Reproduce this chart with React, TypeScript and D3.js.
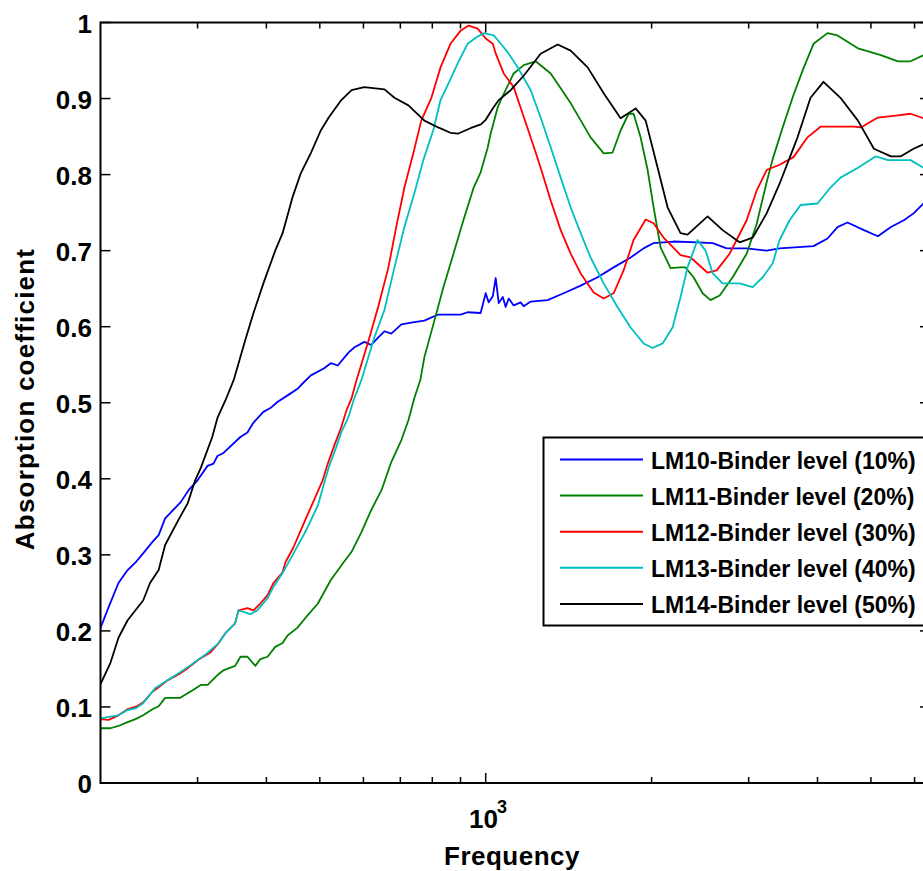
import React from 'react';
import * as d3 from 'd3';

// frequencies (Hz) and absorption coefficients
const freqLM10 = [200, 206.8, 215.6, 224, 231.5, 239, 248.5, 255, 262, 279.4, 289, 300, 312.8, 320.7, 326, 334.4, 358.8, 369.5, 379, 395, 406.7, 418.8, 442, 455, 462, 481.6, 508.4, 523.5, 539, 563.5, 578, 602.5, 620, 638.5, 655, 674, 703, 742, 774, 820, 900, 927, 979, 1000, 1012.6, 1030, 1042.6, 1056, 1074, 1087, 1101, 1124, 1157, 1172, 1207, 1295, 1385, 1487, 1596, 1707, 1832, 1934, 2017, 2192, 2423, 2582, 2737, 2975, 3234, 3414, 3934, 4171, 4348, 4534, 4856, 5148, 5436, 5738, 5975, 6230];
const alphaLM10 = [0.204, 0.231, 0.263, 0.280, 0.290, 0.302, 0.317, 0.326, 0.348, 0.369, 0.385, 0.398, 0.417, 0.420, 0.430, 0.434, 0.455, 0.461, 0.474, 0.488, 0.493, 0.501, 0.512, 0.518, 0.523, 0.536, 0.545, 0.552, 0.549, 0.566, 0.573, 0.580, 0.576, 0.586, 0.594, 0.591, 0.603, 0.606, 0.608, 0.616, 0.616, 0.619, 0.618, 0.644, 0.632, 0.640, 0.664, 0.631, 0.639, 0.626, 0.637, 0.628, 0.632, 0.627, 0.633, 0.635, 0.644, 0.654, 0.665, 0.678, 0.691, 0.703, 0.710, 0.712, 0.711, 0.710, 0.703, 0.703, 0.700, 0.703, 0.706, 0.716, 0.731, 0.737, 0.727, 0.719, 0.731, 0.740, 0.749, 0.762];

const freqLM11 = [200, 208.5, 215.6, 224, 231.5, 239, 248.5, 255, 262, 279, 294, 304, 313, 326, 334, 351, 359, 369.5, 382, 390, 402, 415, 428, 437, 455, 472, 496, 523.5, 552, 571, 595, 620, 647, 674, 703, 724, 742, 761, 774, 807, 838, 874, 911, 951, 979, 1008, 1021, 1051, 1065, 1124, 1172, 1232, 1312, 1426, 1550, 1637, 1699, 1757, 1817, 1855, 1910, 1967, 2017, 2077, 2165, 2257, 2303, 2383, 2475, 2558, 2658, 2806, 2975, 3102, 3234, 3316, 3458, 3619, 3773, 3934, 4171, 4348, 4736, 5213, 5597, 5900, 6230];
const alphaLM11 = [0.072, 0.072, 0.075, 0.080, 0.084, 0.089, 0.097, 0.101, 0.112, 0.112, 0.122, 0.129, 0.129, 0.142, 0.148, 0.154, 0.166, 0.166, 0.154, 0.163, 0.166, 0.179, 0.184, 0.194, 0.204, 0.218, 0.236, 0.267, 0.290, 0.304, 0.330, 0.359, 0.385, 0.422, 0.451, 0.477, 0.506, 0.530, 0.560, 0.608, 0.652, 0.696, 0.740, 0.783, 0.803, 0.835, 0.854, 0.888, 0.898, 0.933, 0.944, 0.949, 0.933, 0.894, 0.849, 0.828, 0.829, 0.858, 0.880, 0.880, 0.849, 0.806, 0.757, 0.704, 0.677, 0.678, 0.678, 0.665, 0.644, 0.635, 0.641, 0.665, 0.696, 0.735, 0.790, 0.820, 0.862, 0.905, 0.940, 0.972, 0.986, 0.983, 0.966, 0.957, 0.949, 0.949, 0.957];

const freqLM12 = [200, 206.8, 215.6, 224, 231.5, 239, 248.5, 255, 264.6, 277.5, 288, 301, 317, 327.5, 337, 351, 356, 369.5, 379, 390, 402, 412, 428, 433, 448, 468, 488, 506, 517, 530, 547, 559, 571, 583, 613, 638, 666, 688, 712, 739, 764, 797, 828, 863, 900, 931, 967, 1000, 1030, 1043, 1078, 1124, 1167, 1217, 1258, 1312, 1368, 1426, 1487, 1570, 1637, 1707, 1779, 1855, 1951, 2017, 2103, 2257, 2354, 2527, 2625, 2771, 2853, 2975, 3102, 3234, 3414, 3619, 3836, 4050, 4657, 4796, 5148, 5597, 5900, 6230];
const alphaLM12 = [0.084, 0.083, 0.089, 0.097, 0.100, 0.106, 0.120, 0.126, 0.135, 0.143, 0.151, 0.162, 0.172, 0.184, 0.197, 0.210, 0.227, 0.230, 0.227, 0.236, 0.247, 0.263, 0.277, 0.290, 0.310, 0.342, 0.372, 0.398, 0.420, 0.442, 0.468, 0.490, 0.506, 0.530, 0.582, 0.626, 0.678, 0.731, 0.783, 0.828, 0.871, 0.901, 0.941, 0.972, 0.989, 0.996, 0.992, 0.979, 0.972, 0.959, 0.933, 0.915, 0.880, 0.841, 0.809, 0.766, 0.727, 0.696, 0.670, 0.645, 0.637, 0.644, 0.674, 0.714, 0.741, 0.736, 0.717, 0.694, 0.691, 0.671, 0.674, 0.696, 0.714, 0.740, 0.779, 0.806, 0.813, 0.823, 0.849, 0.863, 0.863, 0.862, 0.875, 0.878, 0.880, 0.874];

const freqLM13 = [200, 206.8, 215.6, 224, 231.5, 239, 251.6, 264.6, 279.4, 291.4, 312.8, 327.5, 337, 351, 356, 374, 385, 402, 412, 428, 448, 472, 496, 508, 519, 534.5, 547, 563.5, 575.5, 595, 602.5, 628, 655, 683, 712, 742, 770.5, 803, 828, 856, 889, 927, 959, 992, 1034, 1065, 1096, 1143, 1207, 1258, 1312, 1368, 1426, 1487, 1550, 1637, 1734, 1832, 1934, 2008, 2094, 2183, 2257, 2324, 2423, 2506, 2582, 2691, 2889, 3050, 3181, 3316, 3414, 3560, 3726, 4000, 4223, 4403, 4736, 5105, 5368, 5900, 6230];
const alphaLM13 = [0.085, 0.087, 0.089, 0.096, 0.098, 0.105, 0.125, 0.135, 0.146, 0.155, 0.171, 0.184, 0.197, 0.210, 0.227, 0.222, 0.227, 0.243, 0.258, 0.276, 0.302, 0.332, 0.365, 0.392, 0.415, 0.440, 0.461, 0.481, 0.503, 0.530, 0.543, 0.586, 0.622, 0.678, 0.731, 0.775, 0.819, 0.858, 0.898, 0.920, 0.946, 0.972, 0.980, 0.986, 0.983, 0.972, 0.961, 0.941, 0.911, 0.875, 0.836, 0.796, 0.757, 0.723, 0.691, 0.657, 0.626, 0.599, 0.578, 0.572, 0.578, 0.599, 0.639, 0.678, 0.714, 0.700, 0.670, 0.657, 0.657, 0.652, 0.665, 0.683, 0.714, 0.740, 0.760, 0.762, 0.783, 0.796, 0.809, 0.824, 0.819, 0.819, 0.809];

const freqLM14 = [200, 208.5, 215.6, 224, 239, 246, 255, 262, 277, 288, 297, 304, 319, 326, 337, 349, 366, 379, 395, 415, 428, 446, 462, 482, 502, 519, 547, 571, 602, 655, 683, 724, 774, 820, 863, 892, 938, 980, 1000, 1030, 1056, 1110, 1172, 1258, 1351, 1426, 1531, 1637, 1757, 1871, 1951, 2051, 2138, 2257, 2324, 2527, 2691, 2889, 3050, 3234, 3414, 3680, 3885, 4101, 4403, 4736, 5063, 5436, 5667, 5975, 6230];
const alphaLM14 = [0.130, 0.158, 0.191, 0.214, 0.240, 0.263, 0.280, 0.313, 0.346, 0.368, 0.398, 0.414, 0.455, 0.480, 0.503, 0.530, 0.582, 0.618, 0.657, 0.700, 0.723, 0.770, 0.802, 0.829, 0.858, 0.875, 0.898, 0.911, 0.915, 0.912, 0.901, 0.891, 0.871, 0.862, 0.855, 0.854, 0.861, 0.866, 0.872, 0.887, 0.898, 0.911, 0.930, 0.959, 0.971, 0.963, 0.941, 0.907, 0.874, 0.887, 0.871, 0.809, 0.757, 0.723, 0.721, 0.745, 0.727, 0.711, 0.717, 0.749, 0.788, 0.849, 0.901, 0.922, 0.901, 0.871, 0.834, 0.824, 0.824, 0.834, 0.840];

const seriesNames = ['LM10-Binder level (10%)', 'LM11-Binder level (20%)', 'LM12-Binder level (30%)', 'LM13-Binder level (40%)', 'LM14-Binder level (50%)'];
const seriesColors = ['#0000ff', '#008000', '#ff0000', '#00bfbf', '#000000'];
const seriesFreqs = [freqLM10, freqLM11, freqLM12, freqLM13, freqLM14];
const seriesAlphas = [alphaLM10, alphaLM11, alphaLM12, alphaLM13, alphaLM14];

const W = 923;
const H = 871;
const left = 100.5, right = 930, top = 22.5, bottom = 783;
const font = 'Arial, "Liberation Sans", Helvetica, sans-serif';

const App = () => {
  const x = d3.scaleLog().domain([200, 6400]).range([left, right]);
  const y = d3.scaleLinear().domain([0, 1]).range([bottom, top]);
  const line = d3.line<[number, number]>()
    .x(d => x(d[0]))
    .y(d => y(d[1]));

  const xTicks = x.ticks().filter(t => t > 200 && t < 6400);
  const yTicks = y.ticks(10);

  return (
    <svg width={W} height={H} style={{ position: 'absolute', left: 0, top: 0, background: '#fff' }}
      fontFamily={font} fontWeight="bold">
      <defs>
        <clipPath id="plot">
          <rect x={left} y={top} width={right - left} height={bottom - top} />
        </clipPath>
      </defs>

      <g clipPath="url(#plot)" fill="none" strokeWidth={1.8} strokeLinejoin="round">
        {seriesNames.map((name, i) => (
          <path key={name} stroke={seriesColors[i]}
            d={line(seriesFreqs[i].map((f, j) => [f, seriesAlphas[i][j]] as [number, number])) || ''} />
        ))}
      </g>

      {/* box */}
      <rect x={left} y={top} width={right - left} height={bottom - top} fill="none" stroke="#000" strokeWidth={2} />

      {/* x ticks, bottom and top */}
      {xTicks.map(t => {
        const len = t === 1000 ? 10 : 6;
        return (
          <g key={t} stroke="#000" strokeWidth={1.5}>
            <line x1={x(t)} x2={x(t)} y1={bottom} y2={bottom - len} />
            <line x1={x(t)} x2={x(t)} y1={top} y2={top + len} />
          </g>
        );
      })}
      <text x={498} y={828} fontSize={26} textAnchor="end">10</text>
      <text x={497} y={813} fontSize={18}>3</text>

      {/* y ticks */}
      {yTicks.map(t => (
        <g key={t}>
          <line x1={left} x2={left + 10} y1={y(t)} y2={y(t)} stroke="#000" strokeWidth={1.5} />
          <line x1={right} x2={right - 10} y1={y(t)} y2={y(t)} stroke="#000" strokeWidth={1.5} />
          <text x={92} y={y(t) + 1} fontSize={26} textAnchor="end" dominantBaseline="central">
            {d3.format('~g')(t)}
          </text>
        </g>
      ))}

      <text x={512} y={865} fontSize={26} textAnchor="middle" letterSpacing={0.5}>Frequency</text>
      <text transform="translate(25,399) rotate(-90)" fontSize={26} textAnchor="middle"
        dominantBaseline="central" letterSpacing={1.2}>Absorption coefficient</text>

      {/* legend */}
      <g>
        <rect x={543.5} y={437.5} width={390} height={188} fill="#fff" stroke="#000" strokeWidth={2} />
        {seriesNames.map((name, i) => {
          const ry = 459.5 + i * 36.1;
          return (
            <g key={name}>
              <line x1={560} x2={643} y1={ry} y2={ry} stroke={seriesColors[i]} strokeWidth={2} />
              <text x={651} y={ry + 1} fontSize={23} dominantBaseline="central">{name}</text>
            </g>
          );
        })}
      </g>
    </svg>
  );
};

export default App;
